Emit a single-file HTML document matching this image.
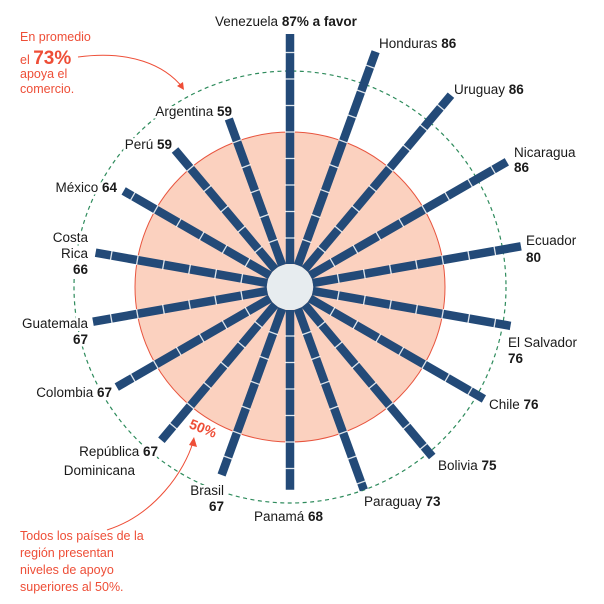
<!DOCTYPE html>
<html><head><meta charset="utf-8"><style>
html,body{margin:0;padding:0;background:#fff}
svg{display:block}
text{font-family:"Liberation Sans",sans-serif;font-size:13.5px;fill:#1a1a1a}
.b{font-weight:bold}
.w{paint-order:stroke;stroke:#fff;stroke-width:5px}
.r{fill:#ee4e37;font-size:12.5px}
</style></head><body>
<svg id="s" width="604" height="604" viewBox="0 0 604 604">
<circle cx="290" cy="287" r="155" fill="#fbd1bf" stroke="#e8553f" stroke-width="1"/>
<circle cx="290" cy="287" r="216" fill="none" stroke="#2e8b5c" stroke-width="1.2" stroke-dasharray="4 3.5"/>
<g id="bars"></g>
<circle cx="290" cy="287" r="23" fill="#e7ecef"/>
<g class="w">
<text x="215" y="26">Venezuela <tspan class="b">87% a favor</tspan></text>
<text x="379" y="48">Honduras <tspan class="b">86</tspan></text>
<text x="454" y="94">Uruguay <tspan class="b">86</tspan></text>
<text x="514" y="157">Nicaragua</text><text x="514" y="172" class="b">86</text>
<text x="526" y="245">Ecuador</text><text x="526" y="262" class="b">80</text>
<text x="508" y="347">El Salvador</text><text x="508" y="363" class="b">76</text>
<text x="489" y="409">Chile <tspan class="b">76</tspan></text>
<text x="438" y="470">Bolivia <tspan class="b">75</tspan></text>
<text x="364" y="506">Paraguay <tspan class="b">73</tspan></text>
<text x="254" y="521">Panamá <tspan class="b">68</tspan></text>
<text x="224" y="495" text-anchor="end">Brasil</text><text x="224" y="511" text-anchor="end" class="b">67</text>
<text x="158" y="456" text-anchor="end">República <tspan class="b">67</tspan></text>
<text x="135" y="475" text-anchor="end">Dominicana</text>
<text x="112" y="397" text-anchor="end">Colombia <tspan class="b">67</tspan></text>
<text x="88" y="328" text-anchor="end">Guatemala</text><text x="88" y="344" text-anchor="end" class="b">67</text>
<text x="88" y="242" text-anchor="end">Costa</text><text x="88" y="258" text-anchor="end">Rica</text><text x="88" y="274" text-anchor="end" class="b">66</text>
<text x="117" y="192" text-anchor="end">México <tspan class="b">64</tspan></text>
<text x="172" y="149" text-anchor="end">Perú <tspan class="b">59</tspan></text>
<text x="232" y="116" text-anchor="end">Argentina <tspan class="b">59</tspan></text>
</g>
<text class="r" x="20" y="41">En promedio</text>
<text class="r" x="20" y="64">el <tspan style="font-size:19px;font-weight:bold">73%</tspan></text>
<text class="r" x="20" y="78">apoya el</text>
<text class="r" x="20" y="93">comercio.</text>
<path d="M78 57 C130 50 165 65 183 88" fill="none" stroke="#ee4e37" stroke-width="1"/>
<path d="M177 86 L184 90 L183 82 Z" fill="#ee4e37"/>
<text class="r b" x="189" y="432" transform="rotate(22 200 428)" style="font-size:14px;font-weight:bold">50%</text>
<path d="M107 530 C155 515 185 470 193 442" fill="none" stroke="#ee4e37" stroke-width="1"/>
<path d="M189 445 L194 437 L197 447 Z" fill="#ee4e37"/>
<text class="r" x="20" y="540">Todos los países de la</text>
<text class="r" x="20" y="557">región presentan</text>
<text class="r" x="20" y="574">niveles de apoyo</text>
<text class="r" x="20" y="591">superiores al 50%.</text>
</svg>
<script>
var v=[87,86,86,86,80,76,76,75,73,68,67,67,67,67,66,64,59,59];
var g=document.getElementById('bars'),ns='http://www.w3.org/2000/svg',h='';
for(var i=0;i<v.length;i++){var a=i*20*Math.PI/180,s=Math.sin(a),c=-Math.cos(a);
var r1=23,r2=22.5+2.65*v[i];
h+='<line x1="'+(290+r1*s)+'" y1="'+(287+r1*c)+'" x2="'+(290+r2*s)+'" y2="'+(287+r2*c)+'" stroke="#234a78" stroke-width="8.5"/>';
for(var k=1;k<=8;k++){var r=22.5+26.5*k;if(r<r2-3){var px=290+r*s,py=287+r*c;
h+='<line x1="'+(px+5*c)+'" y1="'+(py-5*s)+'" x2="'+(px-5*c)+'" y2="'+(py+5*s)+'" stroke="#fff" stroke-width="1.3" opacity="0.85"/>';}}}
g.innerHTML=h;
</script>
</body></html>
